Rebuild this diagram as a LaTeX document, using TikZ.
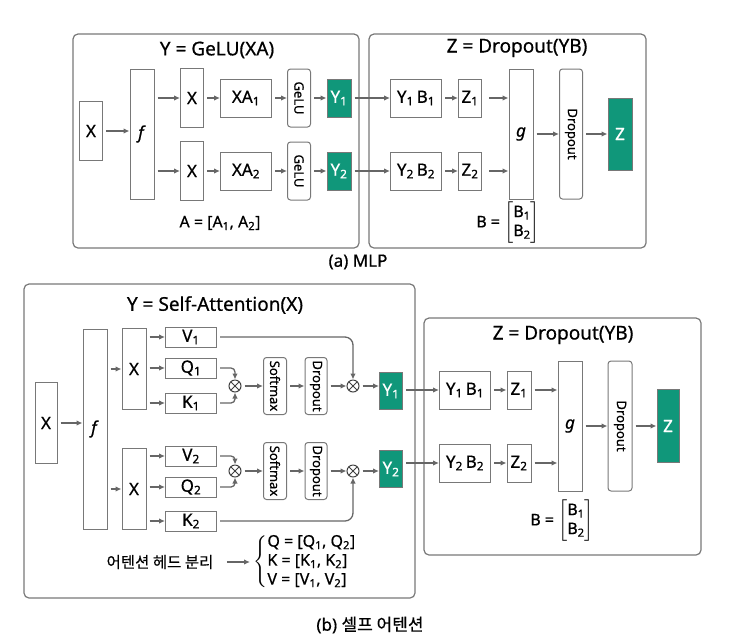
\documentclass[tikz,border=0pt]{standalone}
\usepackage{amsmath}
\usepackage{fontspec}
\setmainfont{Noto Sans}[FakeBold=0.6]
\newfontfamily\krfont{Noto Sans CJK KR}[FakeBold=0.4]
\usetikzlibrary{arrows.meta,calc,positioning}
\definecolor{tealgreen}{RGB}{16,151,122}
\definecolor{linegray}{RGB}{120,120,120}
\newcommand{\ix}[1]{\textsubscript{#1}}
\newcommand{\vlab}[1]{\rotatebox{-90}{\fontsize{13}{14}\selectfont #1}}
\tikzset{
    panel/.style={draw=linegray, line width=1.2pt, rounded corners=5pt},
    sz/.style 2 args={minimum width=#1, minimum height=#2},
    blk/.style={draw=linegray, line width=1pt, inner sep=0pt, font=\fontsize{17}{19}\selectfont},
    rblk/.style={blk, rounded corners=3pt},
    tealbox/.style={blk, fill=tealgreen, text=white},
    mult/.style={circle, draw=black!75, line width=1pt, minimum size=12pt, inner sep=0pt,
        path picture={\draw[black!75, line width=1pt]
            (path picture bounding box.north west) -- (path picture bounding box.south east)
            (path picture bounding box.north east) -- (path picture bounding box.south west);}},
    arr/.style={-{Latex[length=6pt,width=5.5pt]}, draw=linegray!85!black, line width=1.3pt, shorten <=3pt},
    title/.style={font=\fontsize{19}{21}\selectfont},
    lbl/.style={font=\fontsize{16}{18}\selectfont}
}

\begin{document}
\begin{tikzpicture}[x=1pt, y=-1pt]
    % Fix the page size.
    \useasboundingbox (0,0) rectangle (735,641);

    % Draw the panels.
    \draw[panel] (73,34) rectangle (359,248);
    \draw[panel] (369,34) rectangle (646,248);
    \draw[panel] (24,284) rectangle (415,598);
    \draw[panel] (424,318) rectangle (701,555);

    % (a) MLP: Y = GeLU(XA).
    \node[title] (ta) at (217,50) {Y = GeLU(XA)};
    \node[blk, sz={23pt}{59pt}] (xa) at (91,131) {X};
    \node[blk, sz={24pt}{130pt}] (fa) at (142,134) {\textit{f}};
    \draw[arr] (xa) -- (xa -| fa.west);
    \foreach \i/\y in {1/98,2/171} {
        \node[blk, sz={23pt}{59pt}] (xa\i) at (192,\y) {X};
        \node[blk, sz={51pt}{38pt}] (xm\i) at (246,\y) {XA\ix{\i}};
        \node[rblk, sz={23pt}{58pt}] (ge\i) at (299,\y) {\vlab{GeLU}};
        \node[tealbox, sz={24pt}{38pt}] (ya\i) at (339,\y) {Y\ix{\i}};
        \draw[arr] (fa.east |- xa\i) -- (xa\i);
        \draw[arr] (xa\i) -- (xm\i);
        \draw[arr] (xm\i) -- (ge\i);
        \draw[arr] (ge\i) -- (ya\i);
    }
    \node[lbl] (aa) at (220,223) {A = [A\ix{1}, A\ix{2}]};
    \node[font=\fontsize{17}{19}\selectfont] (capa) at (358,262) {(a) MLP};

    % (a) MLP: Z = Dropout(YB).
    \node[title] (tb) at (517,48) {Z = Dropout(YB)};
    \node[blk, sz={24pt}{130pt}] (ga) at (521,134) {\textit{g}};
    \node[rblk, sz={23pt}{130pt}] (da) at (571,134) {\vlab{Dropout}};
    \node[tealbox, sz={24pt}{72pt}] (za) at (620,134) {Z};
    \foreach \i/\y in {1/98,2/171} {
        \node[blk, sz={51pt}{38pt}] (yb\i) at (416,\y) {Y\ix{\i}\,B\ix{\i}};
        \node[blk, sz={23pt}{38pt}] (zb\i) at (470,\y) {Z\ix{\i}};
        \draw[arr] (ya\i) -- (yb\i);
        \draw[arr] (yb\i) -- (zb\i);
        \draw[arr, shorten <=7pt] (zb\i) -- (zb\i -| ga.west);
    }
    \draw[arr] (ga) -- (da);
    \draw[arr] (da) -- (za);
    \node[lbl] (ba) at (508,223) {B = $\left[\begin{array}{@{}c@{}}\text{B\ix{1}}\\[1pt]\text{B\ix{2}}\end{array}\right]$};

    % (b) Self-attention: Y = Self-Attention(X).
    \node[title] (tc) at (215,305) {Y = Self-Attention(X)};
    \node[blk, sz={22pt}{81pt}] (xc) at (46,423) {X};
    \node[blk, sz={24pt}{200pt}] (fc) at (95,429) {\textit{f}};
    \draw[arr] (xc) -- (xc -| fc.west);
    \foreach \i/\y/\v/\q/\k/\m/\t in {1/369/337/368/403/386/391, 2/489/456/487/521/471/469} {
        \node[blk, sz={24pt}{81pt}] (xh\i) at (134,\y) {X};
        \node[blk, sz={51pt}{20pt}] (v\i) at (191,\v) {V\ix{\i}};
        \node[blk, sz={51pt}{20pt}] (q\i) at (191,\q) {Q\ix{\i}};
        \node[blk, sz={51pt}{20pt}] (k\i) at (191,\k) {K\ix{\i}};
        \node[mult] (ma\i) at (235,\m) {};
        \node[rblk, sz={23pt}{57pt}] (sm\i) at (275,\m) {\vlab{Softmax}};
        \node[rblk, sz={22pt}{57pt}] (dr\i) at (316,\m) {\vlab{Dropout}};
        \node[mult] (mb\i) at (353,\m) {};
        \node[tealbox, sz={23pt}{37pt}] (yh\i) at (391,\t) {Y\ix{\i}};
        \draw[arr] (fc.east |- xh\i) -- (xh\i);
        \foreach \n in {v,q,k}
            \draw[arr] (xh\i.east |- \n\i) -- (\n\i);
        \draw[arr] (ma\i) -- (sm\i);
        \draw[arr] (sm\i) -- (dr\i);
        \draw[arr] (dr\i) -- (mb\i);
        \draw[arr] (mb\i) -- (mb\i -| yh\i.west);
    }

    % Scores and values into the products.
    \draw[arr, rounded corners=4pt] (q1) -- (q1 -| ma1) -- (ma1);
    \draw[arr, rounded corners=4pt] (k1) -- (k1 -| ma1) -- (ma1);
    \draw[arr, rounded corners=4pt] (v2) -- (v2 -| ma2) -- (ma2);
    \draw[arr, rounded corners=4pt] (q2) -- (q2 -| ma2) -- (ma2);
    \draw[arr, rounded corners=8pt] (v1) -- (v1 -| mb1) -- (mb1);
    \draw[arr, rounded corners=8pt] (k2) -- (k2 -| mb2) -- (mb2);

    % Head split note.
    \node[font=\krfont\fontsize{15.5}{17}\selectfont] (sep) at (160,562) {어텐션 헤드 분리};
    \node[lbl, anchor=west] (qkv) at (250,562) {$\left\{\begin{array}{@{}l@{}}\text{Q = [Q\ix{1}, Q\ix{2}]}\\[1pt]
        \text{K = [K\ix{1}, K\ix{2}]}\\[1pt]\text{V = [V\ix{1}, V\ix{2}]}\end{array}\right.$};
    \draw[arr, shorten <=10pt] (sep) -- (qkv);

    % (b) Self-attention: Z = Dropout(YB).
    \node[title] (td) at (563,335) {Z = Dropout(YB)};
    \node[blk, sz={24pt}{130pt}] (gc) at (570,426) {\textit{g}};
    \node[rblk, sz={24pt}{130pt}] (dc) at (620,426) {\vlab{Dropout}};
    \node[tealbox, sz={22pt}{73pt}] (zc) at (668,426) {Z};
    \foreach \i/\y in {1/390,2/463} {
        \node[blk, sz={51pt}{38pt}] (yc\i) at (465,\y) {Y\ix{\i}\,B\ix{\i}};
        \node[blk, sz={24pt}{38pt}] (zd\i) at (519,\y) {Z\ix{\i}};
        \draw[arr] (yc\i.west -| yh\i.east) -- (yc\i);
        \draw[arr] (yc\i) -- (zd\i);
        \draw[arr] (zd\i) -- (zd\i -| gc.west);
    }
    \draw[arr] (gc) -- (dc);
    \draw[arr] (dc) -- (zc);
    \node[lbl] (bc) at (562,521) {B = $\left[\begin{array}{@{}c@{}}\text{B\ix{1}}\\[1pt]\text{B\ix{2}}\end{array}\right]$};
    \node[font=\fontsize{17}{19}\selectfont] (capb) at (370,625) {(b) {\krfont 셀프 어텐션}};
\end{tikzpicture}
\end{document}
